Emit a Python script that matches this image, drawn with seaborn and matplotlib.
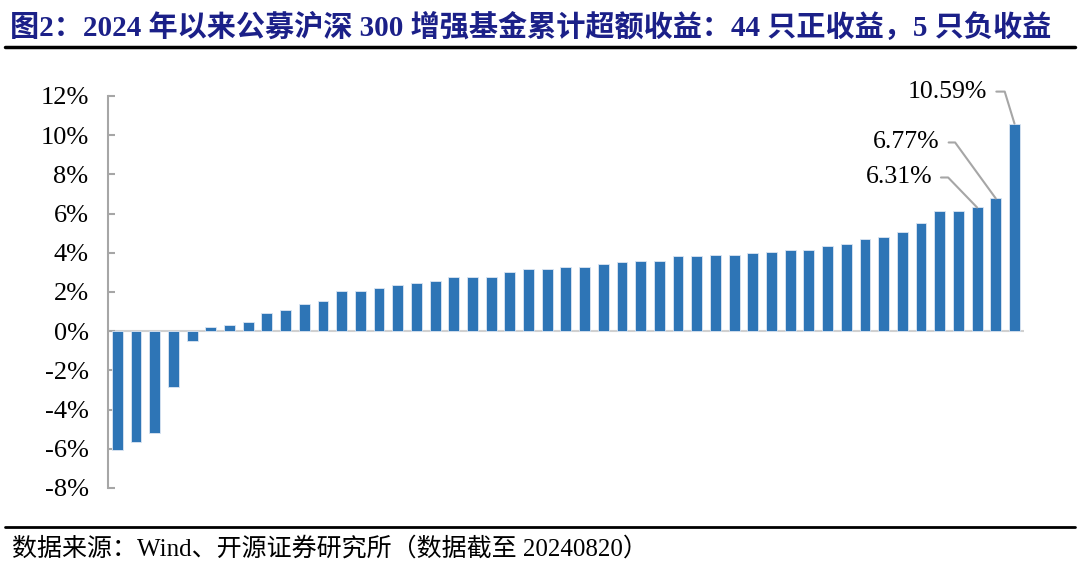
import matplotlib
matplotlib.use('Agg')
import matplotlib.pyplot as plt
import seaborn as sns
import pandas as pd

# 49只基金累计超额收益（%），按从小到大排序
excess = [-6.05, -5.65, -5.2, -2.85, -0.5, 0.2, 0.3, 0.45, 0.95, 1.1,
          1.4, 1.55, 2.05, 2.05, 2.18, 2.35, 2.46, 2.58, 2.74, 2.74,
          2.74, 3.04, 3.19, 3.19, 3.26, 3.26, 3.45, 3.54, 3.6, 3.6,
          3.83, 3.83, 3.87, 3.87, 3.97, 4.02, 4.12, 4.12, 4.36, 4.43,
          4.7, 4.82, 5.05, 5.51, 6.14, 6.14, 6.31, 6.77, 10.59]
fund_no = list(range(len(excess)))
y_ticks = [-8, -6, -4, -2, 0, 2, 4, 6, 8, 10, 12]
y_labels = [f'{t}%' for t in y_ticks]

# 标注的三只基金：(序号, 文本偏移像素, 引线斜角)
labels = [(46, (-45, 30), 134), (47, (-56, 56), 126), (48, (-27, 32), 107)]

title = '图2：2024 年以来公募沪深 300 增强基金累计超额收益：44 只正收益，5 只负收益'
source = '数据来源：Wind、开源证券研究所（数据截至 20240820）'

sns.set_theme(style='white')
plt.rcParams['font.family'] = ['Liberation Serif', 'Noto Sans CJK SC', 'DejaVu Sans']

df = pd.DataFrame({'fund': fund_no, 'excess': excess})

fig = plt.figure(figsize=(10.8, 5.76), dpi=100)
ax = fig.add_axes([0.1, 0.1528, 0.848, 0.6806])

sns.barplot(data=df, x='fund', y='excess', color='#2E75B6', saturation=1,
            width=0.58, edgecolor='#DCE6F2', linewidth=0.6, ax=ax)

ax.set_xlim(-0.5, len(excess) - 0.5)
ax.set_ylim(-8, 12)
ax.set_yticks(y_ticks)
ax.set_yticklabels(y_labels)
ax.set_xticks([])
ax.set_xlabel('')
ax.set_ylabel('')
ax.axhline(0, color='#D0D0D0', linewidth=1.5, zorder=0)

for side in ['top', 'right', 'bottom']:
    ax.spines[side].set_visible(False)
ax.spines['left'].set_color('#A6A6A6')
ax.spines['left'].set_linewidth(1.5)
ax.tick_params(axis='y', direction='in', length=5, width=1.5, color='#A6A6A6',
               pad=14, labelsize=19, labelcolor='black', left=True)

# 标注前三名
for i, off, ang in labels:
    v = excess[i]
    ax.annotate(f'{v:.2f}%', xy=(i, v), xytext=off, textcoords='offset pixels',
                ha='right', va='center', fontsize=18.5, color='black',
                arrowprops=dict(arrowstyle='-', color='#A6A6A6', lw=1.5,
                                shrinkA=4, shrinkB=0, relpos=(1, 0.5),
                                connectionstyle=f'angle,angleA=0,angleB={ang},rad=0'))

# 标题与来源
fig.text(0.009, 0.953, title, fontsize=21, fontweight='bold', color='#1B2088',
         ha='left', va='center')
fig.add_artist(plt.Line2D([0.005, 0.995], [0.918, 0.918], color='black', linewidth=2.5))
fig.add_artist(plt.Line2D([0.005, 0.995], [0.085, 0.085], color='black', linewidth=2))
fig.text(0.011, 0.047, source, fontsize=18, color='black', ha='left', va='center')

plt.savefig('out.png', dpi=100)
